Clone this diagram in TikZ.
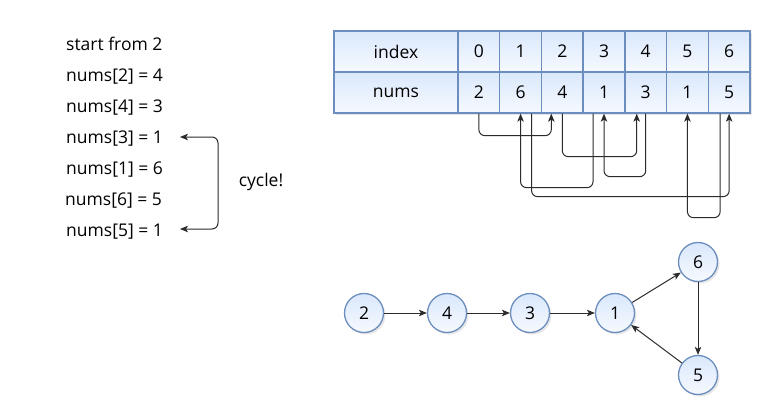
\documentclass[tikz,border=0pt]{standalone}
\usepackage{fontspec}
\setmainfont{Open Sans}
\usetikzlibrary{arrows.meta,shadows}
\definecolor{bluefill}{HTML}{DAE8FC}
\definecolor{blueline}{HTML}{6C8EBF}
\definecolor{conncol}{HTML}{2B2B2B}
\newcommand\txtfont{\fontsize{17.5}{20}\selectfont}
\tikzset{
  cell/.style={draw=blueline, line width=1.3pt, top color=bluefill, bottom color=bluefill!25,
    minimum height=41pt, minimum width=41.7pt, inner sep=0pt, font=\txtfont,
    drop shadow={opacity=0.2, shadow xshift=2pt, shadow yshift=-2pt}},
  gnode/.style={circle, draw=blueline, line width=1.3pt, top color=bluefill, bottom color=bluefill!25,
    minimum size=39pt, inner sep=0pt, font=\txtfont,
    drop shadow={opacity=0.2, shadow xshift=2pt, shadow yshift=-2pt}},
  conn/.style={draw=conncol, line width=1pt, rounded corners=6pt,
    -{Stealth[length=8pt,width=6.5pt,inset=2pt]}},
  garrow/.style={draw=conncol, line width=1pt, -{Stealth[length=8pt,width=6.5pt,inset=2pt]}},
  label/.style={font=\txtfont, inner sep=0pt, anchor=base west}
}
\begin{document}
\begin{tikzpicture}[x=1pt,y=-1pt]
\useasboundingbox (0,0) rectangle (776,420);
% left text
\node[label] (t1) at (66,50.5) {start from 2};
\node[label] (t2) at (66,81.5) {nums[2] = 4};
\node[label] (t3) at (66,112.5) {nums[4] = 3};
\node[label] (t4) at (66,143.5) {nums[3] = 1};
\node[label] (t5) at (66,174.5) {nums[1] = 6};
\node[label] (t6) at (65,205.5) {nums[6] = 5};
\node[label] (t7) at (66,236.5) {nums[5] = 1};
\coordinate (ca) at (180,137);
\coordinate (cb) at (180,229);
\draw[draw=conncol, line width=1pt, rounded corners=6pt,
  {Stealth[length=8pt,width=6.5pt,inset=2pt]}-{Stealth[length=8pt,width=6.5pt,inset=2pt]}]
  (ca) -- (218,137) -- (218,229) -- (cb);
\node[font=\txtfont] (cyc) at (261,182) {cycle!};
% table
\node[cell, minimum width=124pt] (hidx) at (396,51.5) {index};
\node[cell, minimum width=124pt] (hnum) at (396,92.5) {nums};
\foreach \i/\v in {0/2,1/6,2/4,3/1,4/3,5/1,6/5}{
  \node[cell] (i\i) at ({478.86+41.714*\i},51.5) {\i};
  \node[cell] (v\i) at ({478.86+41.714*\i},92.5) {\v};
}
% connectors
\draw[conn] (v0.south) -- ++(0,22) -| ([xshift=-11pt]v2.south);
\draw[conn] (v2.south) -- ++(0,43) -| ([xshift=-9pt]v4.south);
\draw[conn] (v4.south) -- ++(0,63) -| (v3.south);
\draw[conn] ([xshift=-11pt]v3.south) -- ++(0,74) -| (v1.south);
\draw[conn] ([xshift=11pt]v1.south) -- ++(0,83) -| (v6.south);
\draw[conn] ([xshift=-9pt]v6.south) -- ++(0,104) -| (v5.south);
% graph
\node[gnode] (n2) at (364,313) {2};
\node[gnode] (n4) at (447,313) {4};
\node[gnode] (n3) at (530,313) {3};
\node[gnode] (n1) at (615,313) {1};
\node[gnode] (n6) at (698,262) {6};
\node[gnode] (n5) at (698,375) {5};
\draw[garrow] (n2) -- (n4);
\draw[garrow] (n4) -- (n3);
\draw[garrow] (n3) -- (n1);
\draw[garrow] (n1) -- (n6);
\draw[garrow] (n6) -- (n5);
\draw[garrow] (n5) -- (n1);
\end{tikzpicture}
\end{document}
